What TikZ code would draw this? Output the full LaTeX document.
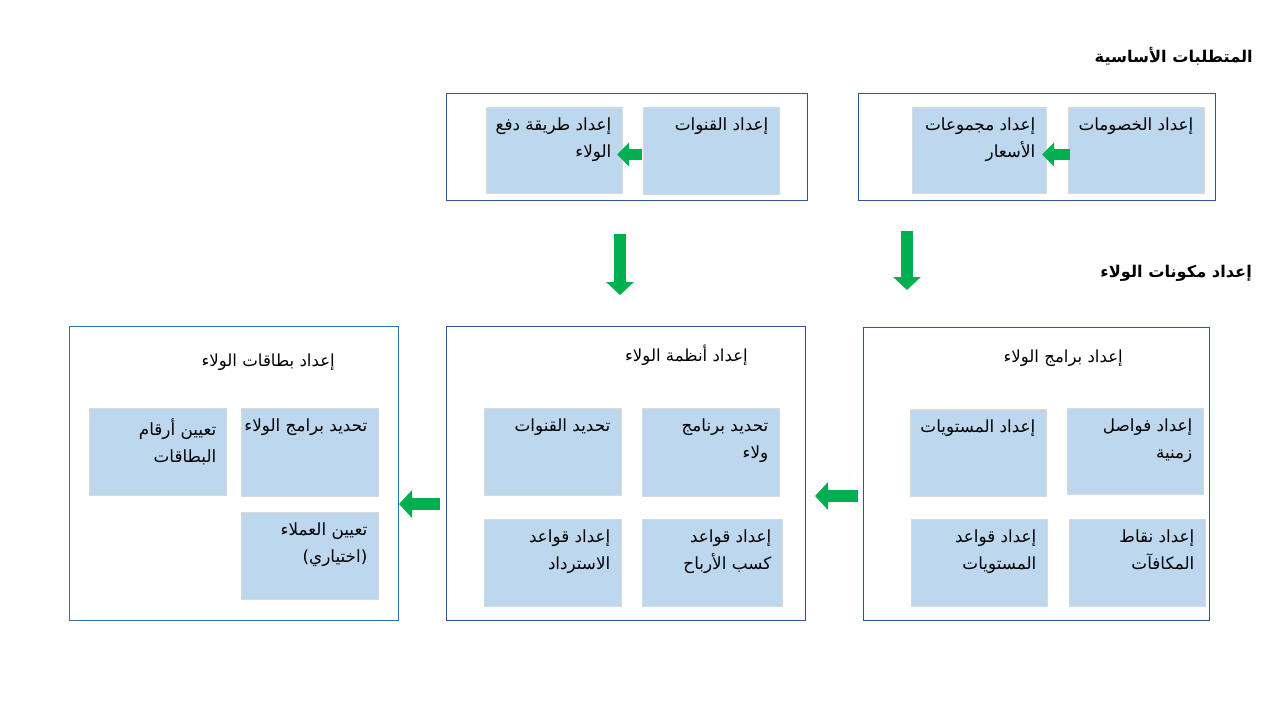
\documentclass[tikz,border=0pt]{standalone}
\usepackage{fontspec}
\newfontfamily\arabicfont[Script=Arabic]{DejaVu Sans}
\TeXXeTstate=1
\usetikzlibrary{arrows.meta}
\definecolor{outerA}{HTML}{2F5597}
\definecolor{outerB}{HTML}{2E75B6}
\definecolor{innerfill}{HTML}{BDD7EE}
\definecolor{arrowgreen}{HTML}{00B050}
\newcommand{\rl}[1]{\beginR #1\endR}
\begin{document}
\begin{tikzpicture}[x=1pt,y=-1pt,
  outerbox/.style={draw=outerA, line width=1pt, fill=white, anchor=north west, inner sep=0pt},
  inbox/.style={fill=innerfill, draw=black!15, line width=0.5pt, anchor=north west, inner sep=0pt},
  boxtext/.style={font=\arabicfont\fontsize{16.8}{27}\selectfont, align=right, inner sep=0pt, anchor=north east},
  titletext/.style={font=\arabicfont\fontsize{16.6}{20}\selectfont, inner sep=0pt, anchor=base east},
  headtext/.style={font=\arabicfont\bfseries\fontsize{16.2}{20}\selectfont, inner sep=0pt, anchor=base east},
  garrow/.style={draw=arrowgreen, line width=12pt, -{Triangle[width=27pt,length=13pt]}},
  smallarrow/.style={draw=arrowgreen, line width=11pt, -{Triangle[width=23pt,length=12pt]}}
]
\useasboundingbox[fill=white] (0,0) rectangle (1280,720);

% headings
\node[headtext] (h1) at (1253,62) {\rl{المتطلبات الأساسية}};
\node[headtext] (h2) at (1252,277) {\rl{إعداد مكونات الولاء}};

% outer boxes
\node[outerbox, minimum width=361pt, minimum height=107pt] (TL) at (446,93) {};
\node[outerbox, minimum width=357pt, minimum height=107pt] (TR) at (858,93) {};
\node[outerbox, draw=outerB, minimum width=329pt, minimum height=294pt] (BL) at (69,326) {};
\node[outerbox, minimum width=359pt, minimum height=294pt] (BM) at (446,326) {};
\node[outerbox, minimum width=346pt, minimum height=293pt] (BR) at (863,327) {};

% titles
\node[titletext] (tBL) at (335,366) {\rl{إعداد بطاقات الولاء}};
\node[titletext] (tBM) at (748,361) {\rl{إعداد أنظمة الولاء}};
\node[titletext] (tBR) at (1123,362) {\rl{إعداد برامج الولاء}};

% inner boxes
\node[inbox, minimum width=136pt, minimum height=86pt] (A) at (486,107) {};
\node[inbox, minimum width=136pt, minimum height=87pt] (B) at (643,107) {};
\node[inbox, minimum width=134pt, minimum height=86pt] (C) at (912,107) {};
\node[inbox, minimum width=136pt, minimum height=86pt] (D) at (1068,107) {};
\node[inbox, minimum width=137pt, minimum height=87pt] (E) at (89,408) {};
\node[inbox, minimum width=137pt, minimum height=88pt] (F) at (241,408) {};
\node[inbox, minimum width=137pt, minimum height=87pt] (G) at (241,512) {};
\node[inbox, minimum width=137pt, minimum height=87pt] (H) at (484,408) {};
\node[inbox, minimum width=137pt, minimum height=88pt] (I) at (642,408) {};
\node[inbox, minimum width=137pt, minimum height=87pt] (J) at (484,519) {};
\node[inbox, minimum width=140pt, minimum height=87pt] (K) at (642,519) {};
\node[inbox, minimum width=136pt, minimum height=87pt] (L) at (910,409) {};
\node[inbox, minimum width=136pt, minimum height=86pt] (M) at (1067,408) {};
\node[inbox, minimum width=136pt, minimum height=87pt] (N) at (911,519) {};
\node[inbox, minimum width=136pt, minimum height=87pt] (O) at (1069,519) {};

% texts
\node[boxtext] (xA) at ([shift={(-11,11)}]A.north east) {\rl{إعداد طريقة دفع}\\\rl{الولاء}};
\node[boxtext] (xB) at ([shift={(-11,11)}]B.north east) {\rl{إعداد القنوات}};
\node[boxtext] (xC) at ([shift={(-11,11)}]C.north east) {\rl{إعداد مجموعات}\\\rl{الأسعار}};
\node[boxtext] (xD) at ([shift={(-11,11)}]D.north east) {\rl{إعداد الخصومات}};
\node[boxtext] (xE) at ([shift={(-10,11)}]E.north east) {\rl{تعيين أرقام}\\\rl{البطاقات}};
\node[boxtext] (xF) at ([shift={(-11,11)}]F.north east) {\rl{تحديد برامج الولاء}};
\node[boxtext] (xG) at ([shift={(-11,11)}]G.north east) {\rl{تعيين العملاء}\\\rl{(اختياري)}};
\node[boxtext] (xH) at ([shift={(-11,11)}]H.north east) {\rl{تحديد القنوات}};
\node[boxtext] (xI) at ([shift={(-11,11)}]I.north east) {\rl{تحديد برنامج}\\\rl{ولاء}};
\node[boxtext] (xJ) at ([shift={(-11,11)}]J.north east) {\rl{إعداد قواعد}\\\rl{الاسترداد}};
\node[boxtext] (xK) at ([shift={(-11,11)}]K.north east) {\rl{إعداد قواعد}\\\rl{كسب الأرباح}};
\node[boxtext] (xL) at ([shift={(-11,11)}]L.north east) {\rl{إعداد المستويات}};
\node[boxtext] (xM) at ([shift={(-11,11)}]M.north east) {\rl{إعداد فواصل}\\\rl{زمنية}};
\node[boxtext] (xN) at ([shift={(-11,11)}]N.north east) {\rl{إعداد قواعد}\\\rl{المستويات}};
\node[boxtext] (xO) at ([shift={(-11,11)}]O.north east) {\rl{إعداد نقاط}\\\rl{المكافآت}};

% arrow end points
\coordinate (d1s) at (620,234);  \coordinate (d1e) at (620,295);
\coordinate (d2s) at (907,231);  \coordinate (d2e) at (907,290);
\coordinate (l1s) at (440,504);  \coordinate (l1e) at (399,504);
\coordinate (l2s) at (858,496);  \coordinate (l2e) at (815,496);
\coordinate (s1s) at (642,154.5); \coordinate (s1e) at (617,154.5);
\coordinate (s2s) at (1070,154.5); \coordinate (s2e) at (1042,154.5);

\draw[garrow] (d1s) -- (d1e);
\draw[garrow] (d2s) -- (d2e);
\draw[garrow] (l1s) -- (l1e);
\draw[garrow] (l2s) -- (l2e);
\draw[smallarrow] (s1s) -- (s1e);
\draw[smallarrow] (s2s) -- (s2e);
\end{tikzpicture}
\end{document}
